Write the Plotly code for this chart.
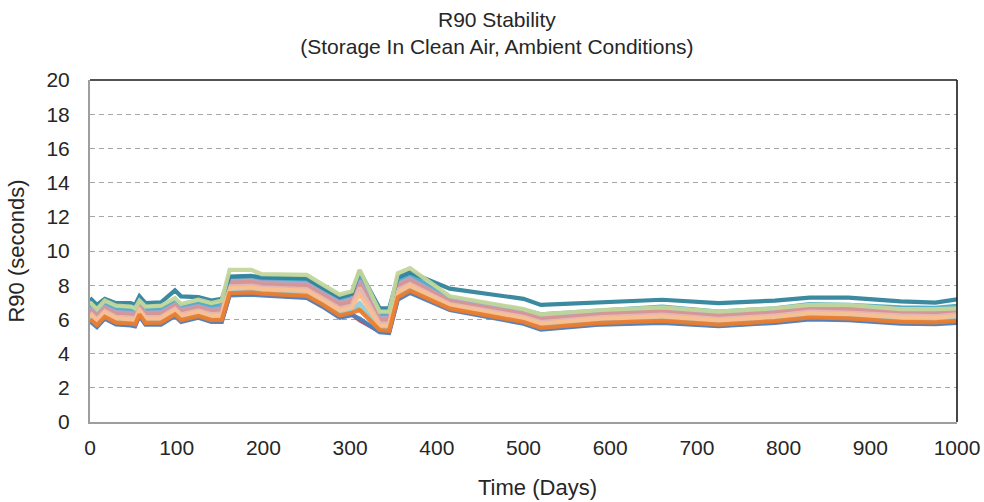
import plotly.graph_objects as go

# Storage time (days) at which each sensor's R90 was measured
days = [0, 8, 17, 30, 47, 52, 57, 64, 82, 98, 105, 125, 140, 152, 161, 186, 198, 250,
        268, 288, 302, 311, 334, 345, 355, 369, 415, 500, 520, 590, 660, 725, 790, 830,
        875, 935, 975, 1000]

# R90 (seconds) per sensor
s_red = [5.95, 5.60, 6.09, 5.75, 5.70, 5.65, 6.24, 5.74, 5.75, 6.24, 5.90, 6.14, 5.90, 5.90,
         7.45, 7.50, 7.45, 7.30, 6.80, 6.16, 6.31, 5.95, 5.30, 5.26, 7.21, 7.60, 6.59, 5.79,
         5.45, 5.74, 5.85, 5.64, 5.84, 6.05, 6.00, 5.80, 5.77, 5.85]
s_blue = [5.90, 5.55, 6.05, 5.70, 5.65, 5.60, 6.20, 5.70, 5.70, 6.20, 5.85, 6.10, 5.85, 5.85,
          7.40, 7.45, 7.40, 7.25, 6.75, 6.10, 6.25, 6.05, 5.25, 5.20, 7.15, 7.55, 6.55, 5.75,
          5.40, 5.70, 5.80, 5.60, 5.80, 6.00, 5.95, 5.75, 5.72, 5.80]
s_green = [6.42, 6.05, 6.52, 6.20, 6.15, 6.10, 6.61, 6.17, 6.20, 6.67, 6.35, 6.57, 6.35, 6.40,
           7.98, 8.03, 7.92, 7.83, 7.30, 6.71, 6.88, 6.55, 5.83, 5.81, 7.78, 8.13, 6.94, 6.19,
           5.90, 6.17, 6.32, 6.07, 6.27, 6.50, 6.45, 6.27, 6.24, 6.35]
s_purple = [6.49, 6.11, 6.58, 6.26, 6.21, 6.16, 6.67, 6.23, 6.26, 6.73, 6.41, 6.63, 6.41, 6.47,
            8.05, 8.10, 7.99, 7.90, 7.37, 6.78, 6.96, 7.65, 5.90, 5.88, 7.86, 8.20, 6.98, 6.25,
            5.96, 6.23, 6.39, 6.13, 6.33, 6.56, 6.51, 6.34, 6.31, 6.42]
s_aqua = [6.85, 6.45, 6.90, 6.60, 6.55, 6.50, 6.95, 6.55, 6.60, 7.05, 6.75, 6.95, 6.75, 6.85,
          8.45, 8.50, 8.35, 8.30, 7.75, 7.20, 7.40, 8.45, 6.30, 6.30, 8.30, 8.60, 7.25, 6.55,
          6.30, 6.55, 6.75, 6.45, 6.65, 6.90, 6.85, 6.70, 6.67, 6.80]
s_lavender = [6.66, 6.27, 6.73, 6.42, 6.37, 6.32, 6.80, 6.38, 6.42, 6.88, 6.57, 6.78, 6.57, 6.65,
              8.24, 8.29, 8.16, 8.09, 7.55, 6.98, 7.17, 8.25, 6.09, 6.08, 8.07, 8.39, 7.11, 6.39,
              6.12, 6.38, 6.56, 6.28, 6.48, 6.72, 6.67, 6.51, 6.48, 6.60]
s_pink = [6.57, 6.18, 6.65, 6.33, 6.28, 6.23, 6.73, 6.30, 6.33, 6.80, 6.48, 6.70, 6.48, 6.55,
          8.14, 8.19, 8.07, 7.99, 7.45, 6.87, 7.06, 8.05, 5.99, 5.97, 7.96, 8.29, 7.04, 6.31,
          6.03, 6.30, 6.47, 6.20, 6.40, 6.63, 6.58, 6.42, 6.39, 6.50]
s_rose = [6.38, 6.00, 6.48, 6.15, 6.10, 6.05, 6.58, 6.13, 6.15, 6.63, 6.30, 6.53, 6.30, 6.35,
          7.93, 7.98, 7.88, 7.78, 7.25, 6.65, 6.83, 7.85, 5.78, 5.75, 7.73, 8.08, 6.90, 6.15,
          5.85, 6.13, 6.28, 6.03, 6.23, 6.45, 6.40, 6.23, 6.20, 6.30]
s_lightblue = [6.14, 5.78, 6.26, 5.93, 5.88, 5.83, 6.39, 5.91, 5.93, 6.41, 6.08, 6.31, 6.08, 6.10,
               7.66, 7.71, 7.64, 7.51, 7.00, 6.38, 6.54, 6.95, 5.51, 5.48, 7.44, 7.81, 6.73, 5.95,
               5.63, 5.91, 6.04, 5.81, 6.01, 6.23, 6.18, 5.99, 5.96, 6.05]
s_salmon = [6.28, 5.91, 6.39, 6.06, 6.01, 5.96, 6.50, 6.04, 6.06, 6.54, 6.21, 6.44, 6.21, 6.25,
            7.82, 7.87, 7.78, 7.67, 7.15, 6.54, 6.71, 7.45, 5.67, 5.64, 7.61, 7.97, 6.83, 6.07,
            5.76, 6.04, 6.18, 5.94, 6.14, 6.36, 6.31, 6.13, 6.10, 6.20]
s_orange = [6.01, 5.66, 6.15, 5.81, 5.76, 5.71, 6.29, 5.80, 5.81, 6.30, 5.96, 6.20, 5.96, 5.97,
            7.53, 7.58, 7.51, 7.38, 6.87, 6.23, 6.39, 6.55, 5.38, 5.33, 7.29, 7.68, 6.63, 5.85,
            5.51, 5.80, 5.91, 5.70, 5.90, 6.11, 6.06, 5.86, 5.83, 5.92]
s_teal = [7.25, 6.85, 7.20, 6.95, 6.95, 6.85, 7.35, 6.95, 7.00, 7.70, 7.35, 7.30, 7.10, 7.20,
          8.50, 8.55, 8.45, 8.40, 7.85, 7.30, 7.50, 8.82, 6.65, 6.65, 8.45, 8.75, 7.80, 7.20,
          6.85, 7.00, 7.15, 6.95, 7.10, 7.27, 7.27, 7.05, 6.98, 7.17]
s_palegreen = [7.00, 6.60, 7.10, 6.80, 6.75, 6.65, 7.10, 6.75, 6.80, 7.25, 6.90, 7.15, 6.95, 7.10,
               8.90, 8.90, 8.65, 8.60, 8.05, 7.45, 7.65, 8.90, 6.45, 6.45, 8.70, 9.00, 7.35, 6.60,
               6.30, 6.55, 6.70, 6.45, 6.65, 6.85, 6.85, 6.60, 6.60, 6.65]

# Drawing order: first entries sit underneath
series = [
    (s_red, "#C0504D"),
    (s_blue, "#4F81BD"),
    (s_green, "#9BBB59"),
    (s_purple, "#8064A2"),
    (s_aqua, "#4BACC6"),
    (s_lavender, "#B3A2C7"),
    (s_pink, "#D99694"),
    (s_rose, "#E6B9B8"),
    (s_lightblue, "#93CDDD"),
    (s_salmon, "#FAC090"),
    (s_orange, "#EC7D2E"),
    (s_teal, "#31849B"),
    (s_palegreen, "#C3D69B"),
]

y_ticks = [0, 2, 4, 6, 8, 10, 12, 14, 16, 18, 20]
x_ticks = [0, 100, 200, 300, 400, 500, 600, 700, 800, 900, 1000]

FONT = "Liberation Sans, Arial, sans-serif"
TEXT = "#262626"

fig = go.Figure()
for vals, col in series:
    fig.add_trace(go.Scatter(x=days, y=vals, mode="lines",
                             line=dict(color=col, width=4.2),
                             opacity=0.95, showlegend=False, hoverinfo="skip"))

fig.update_layout(
    width=984, height=502,
    margin=dict(l=90, r=27, t=80, b=80),
    paper_bgcolor="white", plot_bgcolor="white",
    font=dict(family=FONT, color=TEXT),
    title=dict(text="R90 Stability<br>(Storage In Clean Air, Ambient Conditions)",
               x=0.505, xanchor="center", y=0.947, yanchor="top",
               font=dict(size=21, color=TEXT, family=FONT)),
    showlegend=False,
)

fig.update_xaxes(range=[0, 1000], tickvals=x_ticks, ticks="", showgrid=False,
                 zeroline=False, showline=True, linecolor="#9E9E9E", linewidth=2,
                 automargin=False,
                 tickfont=dict(size=21, color=TEXT, family=FONT),
                 ticklabelstandoff=6)
fig.update_yaxes(range=[0, 20], tickvals=y_ticks, ticks="", showgrid=True,
                 gridcolor="#A6A6A6", gridwidth=1.3, griddash="5px,4px",
                 zeroline=False, showline=True, linecolor="#9E9E9E", linewidth=2,
                 automargin=False,
                 tickfont=dict(size=21, color=TEXT, family=FONT),
                 ticklabelstandoff=14,
                 title=dict(text="R90 (seconds)", font=dict(size=22, color=TEXT, family=FONT),
                            standoff=16))

# x-axis title, sitting slightly right of centre under the plot
fig.add_annotation(text="Time (Days)", xref="paper", yref="paper", x=0.516, y=0,
                   yshift=-65, xanchor="center", yanchor="middle", showarrow=False,
                   font=dict(size=22, color=TEXT, family=FONT))

# dark frame on the top and right edges of the plot area
fig.add_shape(type="line", xref="paper", yref="paper", x0=0, x1=1, y0=1, y1=1,
              line=dict(color="#1A1A1A", width=1.6), layer="above")
fig.add_shape(type="line", xref="paper", yref="paper", x0=1, x1=1, y0=0, y1=1,
              line=dict(color="#1A1A1A", width=1.6), layer="above")

fig.write_html("out.html")
